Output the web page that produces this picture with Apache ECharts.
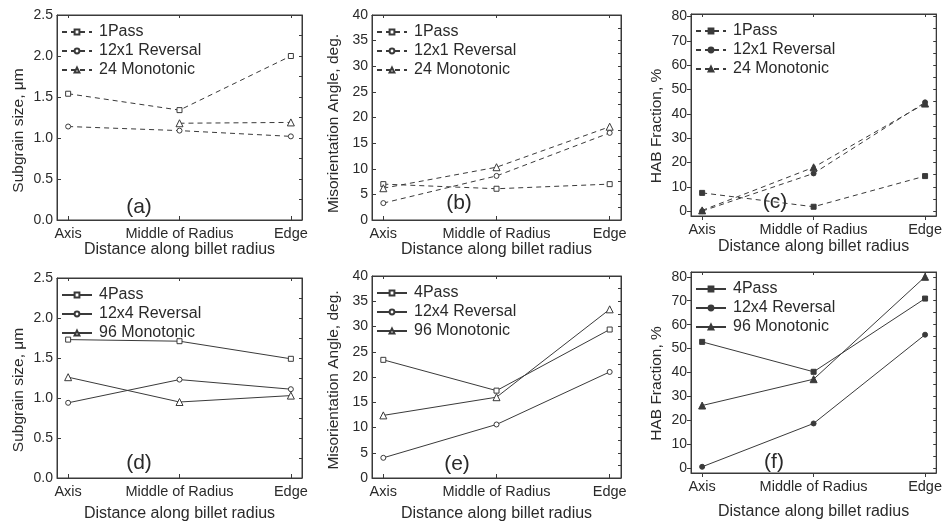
<!DOCTYPE html>
<html>
<head>
<meta charset="utf-8">
<script src="https://cdn.jsdelivr.net/npm/echarts@6/dist/echarts.min.js"></script>
<style>
  html, body { margin: 0; padding: 0; background: #fff; }
  #main { width: 945px; height: 523px; }
</style>
</head>
<body>
<div id="main"></div>
<script>
var categories = ['Axis', 'Middle of Radius', 'Edge'];

// (a) subgrain size, 1 pass
var a1Pass = [1.54, 1.34, 2.00];
var a12x1Rev = [1.14, 1.09, 1.02];
var a24Mono = [null, 1.18, 1.19];
// (b) misorientation angle, 1 pass
var b1Pass = [7.0, 6.1, 7.0];
var b12x1Rev = [3.3, 8.6, 17.0];
var b24Mono = [6.2, 10.3, 18.2];
// (c) HAB fraction, 1 pass
var c1Pass = [7.5, 1.8, 14.4];
var c12x1Rev = [0.0, 15.5, 44.7];
var c24Mono = [0.3, 18.0, 44.2];
// (d) subgrain size, 4 pass
var d4Pass = [1.73, 1.71, 1.49];
var d12x4Rev = [0.94, 1.23, 1.11];
var d96Mono = [1.26, 0.95, 1.03];
// (e) misorientation angle, 4 pass
var e4Pass = [23.4, 17.3, 29.4];
var e12x4Rev = [4.0, 10.6, 21.0];
var e96Mono = [12.4, 16.0, 33.4];
// (f) HAB fraction, 4 pass
var f4Pass = [52.8, 40.3, 70.9];
var f12x4Rev = [0.6, 18.7, 55.8];
var f96Mono = [26.2, 37.2, 80.0];

var catTicks = [0, 1, 2];
var habLabels = [0, 10, 20, 30, 40, 50, 60, 70, 80];
var habMinor = [0, 5, 10, 15, 20, 25, 30, 35, 40, 45, 50, 55, 60, 65, 70, 75, 80];

var names1 = ['1Pass', '12x1 Reversal', '24 Monotonic'];
var names4 = ['4Pass', '12x4 Reversal', '96 Monotonic'];
var symbols = ['rect', 'circle', 'triangle'];

var FONT = 'Liberation Sans, Arial, sans-serif';
var INK = '#2a2a2a';
var LINE = '#3a3a3a';

var panels = [
  { tag: '(a)', left: 57, top: 15, width: 245, height: 205, min: 0, max: 2.5, interval: 0.5,
    yName: 'Subgrain size, \u03bcm', names: names1, data: [a1Pass, a12x1Rev, a24Mono],
    dashed: true, filled: false, xGap: 19, yShift: 13, tagX: 139, tagY: 207 },
  { tag: '(b)', left: 372, top: 15, width: 249, height: 205, min: 0, max: 40, interval: 5,
    yName: 'Misorientation Angle, deg.', names: names1, data: [b1Pass, b12x1Rev, b24Mono],
    dashed: true, filled: false, xGap: 19, yShift: 6, tagX: 459, tagY: 203 },
  { tag: '(c)', left: 691, top: 14, width: 250, height: 202, min: -2, max: 81,
    yName: 'HAB Fraction, %', names: names1, data: [c1Pass, c12x1Rev, c24Mono],
    dashed: true, filled: true, xGap: 23, yShift: 11, tagX: 775, tagY: 202 },
  { tag: '(d)', left: 57, top: 278, width: 245, height: 200, min: 0, max: 2.5, interval: 0.5,
    yName: 'Subgrain size, \u03bcm', names: names4, data: [d4Pass, d12x4Rev, d96Mono],
    dashed: false, filled: false, xGap: 28, yShift: 12, tagX: 139, tagY: 463 },
  { tag: '(e)', left: 372, top: 276, width: 249, height: 202, min: 0, max: 40, interval: 5,
    yName: 'Misorientation Angle, deg.', names: names4, data: [e4Pass, e12x4Rev, e96Mono],
    dashed: false, filled: false, xGap: 28, yShift: 3, tagX: 457, tagY: 464 },
  { tag: '(f)', left: 691, top: 272, width: 250, height: 201, min: -2, max: 82,
    yName: 'HAB Fraction, %', names: names4, data: [f4Pass, f12x4Rev, f96Mono],
    dashed: false, filled: true, xGap: 31, yShift: 11, tagX: 774, tagY: 462 }
];

var grid = [], xAxis = [], yAxis = [], series = [], legend = [], graphic = [];

panels.forEach(function (p, i) {
  var inside = !p.filled;
  grid.push({ left: p.left, top: p.top, width: p.width, height: p.height,
    show: true, borderColor: LINE, borderWidth: 1 });

  xAxis.push({
    gridIndex: i, type: 'value', min: -0.1, max: 2.1, position: 'bottom',
    name: 'Distance along billet radius', nameLocation: 'middle', nameGap: p.xGap,
    nameTextStyle: { fontFamily: FONT, fontSize: 16, color: INK },
    axisLine: { onZero: false, lineStyle: { color: LINE } },
    axisTick: { inside: inside, length: 4, customValues: catTicks, lineStyle: { color: LINE } },
    axisLabel: { customValues: catTicks, margin: 6, fontFamily: FONT, fontSize: 14.5, color: INK,
      formatter: function (v) { return categories[Math.round(v)]; } },
    splitLine: { show: false }
  });
  xAxis.push({
    gridIndex: i, type: 'value', min: -0.1, max: 2.1, position: 'top',
    axisLine: { onZero: false, lineStyle: { color: LINE } },
    axisTick: { inside: true, length: 3, customValues: catTicks, lineStyle: { color: LINE } },
    axisLabel: { show: false }, splitLine: { show: false }
  });

  var yLeft = {
    gridIndex: i, type: 'value', min: p.min, max: p.max, position: 'left',
    name: p.yName, nameLocation: 'middle', nameGap: p.filled ? 26 : 30,
    nameTextStyle: { fontFamily: FONT, fontSize: 15.5, color: INK, padding: [0, 2 * p.yShift, 0, 0] },
    axisLine: { show: true, onZero: false, lineStyle: { color: LINE } },
    axisTick: { inside: inside, length: 4, lineStyle: { color: LINE } },
    axisLabel: { margin: 4, fontFamily: FONT, fontSize: 14, color: INK,
      formatter: function (v) { return p.interval === 0.5 ? v.toFixed(1) : String(v); } },
    splitLine: { show: false }
  };
  var yRight = {
    gridIndex: i, type: 'value', min: p.min, max: p.max, position: 'right',
    axisLine: { show: true, onZero: false, lineStyle: { color: LINE } },
    axisTick: { inside: true, length: 3, lineStyle: { color: LINE } },
    axisLabel: { show: false }, splitLine: { show: false }
  };
  if (p.interval) {
    yLeft.interval = p.interval;
    yRight.interval = p.interval / 2;
  } else {
    yLeft.axisTick.customValues = habLabels;
    yLeft.axisLabel.customValues = habLabels;
    yRight.axisTick.customValues = habMinor;
    yRight.axisLabel.customValues = habMinor;
  }
  yAxis.push(yLeft, yRight);

  p.names.forEach(function (nm, k) {
    var pts = [];
    p.data[k].forEach(function (v, j) { if (v !== null) pts.push([j, v]); });
    series.push({
      type: 'line', name: nm, xAxisIndex: 2 * i, yAxisIndex: 2 * i, data: pts,
      symbol: symbols[k], symbolSize: k === 2 ? 7 : 5, showAllSymbol: true,
      lineStyle: { color: LINE, width: 1, type: p.dashed ? [5, 4] : 'solid' },
      itemStyle: { color: p.filled ? LINE : '#fff', borderColor: LINE, borderWidth: 1 },
      emphasis: { disabled: true }, animation: false, z: 3
    });
  });

  legend.push({
    orient: 'vertical', left: p.left + 4, top: p.top + 9,
    itemWidth: 30, itemHeight: 6, itemGap: 3, padding: 0,
    textStyle: { fontFamily: FONT, fontSize: 16, color: INK, padding: [0, 0, 0, 2] },
    selectedMode: false,
    data: p.names.map(function (nm) {
      return { name: nm, itemStyle: { color: p.filled ? LINE : '#fff', borderColor: LINE } };
    })
  });

  graphic.push({
    type: 'text', x: p.tagX, y: p.tagY,
    style: { text: p.tag, font: '21px ' + FONT, fill: INK, align: 'center', verticalAlign: 'middle' }
  });
});

var chart = echarts.init(document.getElementById('main'));
chart.setOption({
  backgroundColor: '#fff',
  animation: false,
  grid: grid,
  xAxis: xAxis,
  yAxis: yAxis,
  legend: legend,
  graphic: graphic,
  series: series
});
</script>
</body>
</html>
